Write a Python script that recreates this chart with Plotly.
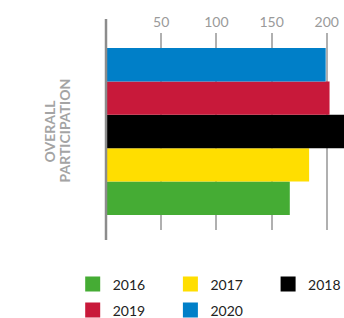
import plotly.graph_objects as go

category = ["Overall participation"]
years = ["2016", "2017", "2018", "2019", "2020"]
values = [166.5, 184, 222, 202.5, 199]
colors = ["#45AC34", "#FFDE00", "#000000", "#C8193A", "#007FC8"]
tick_vals = [50, 100, 150, 200]
legend_rows = ["legend", "legend", "legend", "legend2", "legend2"]
title_lines = ["OVERALL", "PARTICIPATION"]

fig = go.Figure()
for yr, v, c in zip(years, values, colors):
    fig.add_trace(go.Bar(
        x=[v], y=category, orientation="h", name=yr,
        marker=dict(color=c, line=dict(width=0)),
        showlegend=False, hoverinfo="skip",
    ))
for yr, c, lg in zip(years, colors, legend_rows):
    fig.add_trace(go.Scatter(
        x=[None], y=[None], mode="markers", name=yr, legend=lg,
        marker=dict(symbol="square", size=15, color=c),
    ))

FW, FH = 344, 318
L, T, B = 106, 33, 230
H = float(B - T)
W = float(FW - L)

legend_common = dict(
    orientation="h", xanchor="left", yanchor="middle",
    entrywidth=52.7, font=dict(size=14, color="#222222"),
    itemclick=False, bgcolor="rgba(0,0,0,0)",
)
lx = -(L - 72.7) / W
annotations = [
    dict(
        text="<b>%s</b>" % t, textangle=-90,
        xref="paper", yref="paper", x=-(L - px) / W, y=(B - 131) / H,
        xanchor="center", yanchor="middle", showarrow=False,
        font=dict(size=14, color="#a4a4a4", family="Lato"),
    )
    for t, px in zip(title_lines, [48.5, 63.5])
]
fig.update_layout(
    width=FW, height=FH,
    margin=dict(l=L, r=0, t=T, b=FH - B, autoexpand=False),
    paper_bgcolor="white", plot_bgcolor="white",
    barmode="group", bargap=0.152, bargroupgap=0,
    font=dict(family="Lato", color="#333333"),
    xaxis=dict(
        side="top", range=[0, 215.6], tickvals=tick_vals,
        showgrid=True, gridcolor="#b0b0b0", gridwidth=1.5,
        zeroline=False, showline=False, ticks="",
        tickfont=dict(size=14, color="#9a9a9a"),
        ticklabelstandoff=2, automargin=False,
    ),
    yaxis=dict(showticklabels=False, showgrid=False, zeroline=False,
               showline=False, automargin=False),
    legend=dict(legend_common, x=lx, y=(B - 284.5) / H),
    legend2=dict(legend_common, x=lx, y=(B - 310.5) / H),
    shapes=[dict(
        type="line", xref="paper", yref="paper",
        x0=0, x1=0, y0=-(240 - 230) / H, y1=1 + (33 - 19) / H,
        line=dict(color="#8c8c8c", width=2.5),
    )],
    annotations=annotations,
)

fig.write_html(
    "out.html",
    config={"displayModeBar": False},
    post_script="document.body.style.margin='0';document.body.style.overflow='hidden';",
)
